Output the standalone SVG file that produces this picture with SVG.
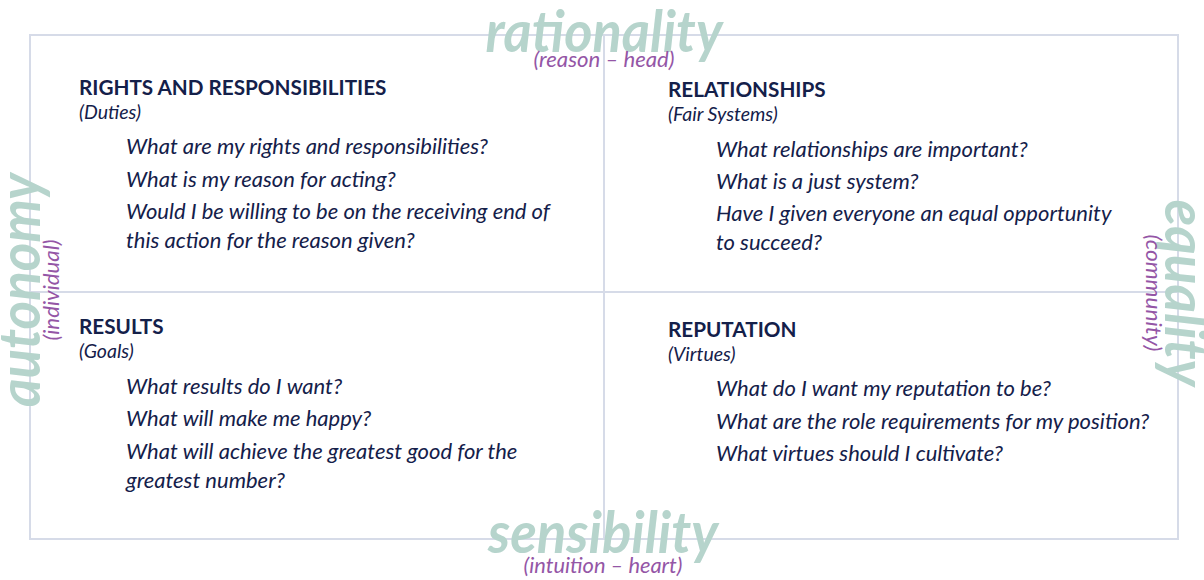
<svg xmlns="http://www.w3.org/2000/svg" width="1204" height="580" viewBox="0 0 1204 580">
<style>
.grid{fill:none;stroke:#d6dbe8;stroke-width:2}
.big{font-family:Lato,"Open Sans",sans-serif;font-style:italic;font-weight:700;font-size:57px;fill:#b6d4cc}
.sub{font-family:Lato,"Open Sans",sans-serif;font-style:italic;font-size:21px;fill:#9456a6}
.h{font-family:Lato,"Open Sans",sans-serif;font-weight:700;font-size:20.7px;fill:#14204a}
.p{font-family:Lato,"Open Sans",sans-serif;font-style:italic;font-size:19.5px;fill:#14204a}
.q{font-family:Lato,"Open Sans",sans-serif;font-style:italic;font-size:22px;fill:#14204a}
</style>
<rect width="1204" height="580" fill="#ffffff"/>
<g id="grid">
<rect class="grid" x="30" y="35" width="1148" height="504"/>
<line class="grid" x1="604" y1="35" x2="604" y2="539"/>
<line class="grid" x1="30" y1="292" x2="1178" y2="292"/>
</g>
<g id="axis-top">
<text class="big" x="604" y="52" text-anchor="middle" textLength="237" lengthAdjust="spacingAndGlyphs">rationality</text>
<text class="sub" x="604" y="67" text-anchor="middle" textLength="141" lengthAdjust="spacingAndGlyphs">(reason – head)</text>
</g>
<g id="axis-bottom">
<text class="big" x="603" y="553" text-anchor="middle" textLength="230" lengthAdjust="spacingAndGlyphs">sensibility</text>
<text class="sub" x="603" y="573" text-anchor="middle" textLength="159" lengthAdjust="spacingAndGlyphs">(intuition – heart)</text>
</g>
<g id="axis-left">
<text class="big" transform="translate(40,290) rotate(-90)" text-anchor="middle" textLength="234" lengthAdjust="spacingAndGlyphs">autonomy</text>
<text class="sub" transform="translate(59,290) rotate(-90)" text-anchor="middle" textLength="101" lengthAdjust="spacingAndGlyphs">(individual)</text>
</g>
<g id="axis-right">
<text class="big" transform="translate(1165,293) rotate(90)" text-anchor="middle" textLength="187" lengthAdjust="spacingAndGlyphs">equality</text>
<text class="sub" transform="translate(1146,293) rotate(90)" text-anchor="middle" textLength="117" lengthAdjust="spacingAndGlyphs">(community)</text>
</g>
<g id="q-rights">
<text class="h" x="79" y="95">RIGHTS AND RESPONSIBILITIES</text>
<text class="p" x="79" y="119">(Duties)</text>
<text class="q" x="126" y="154">What are my rights and responsibilities?</text>
<text class="q" x="126" y="187">What is my reason for acting?</text>
<text class="q" x="126" y="219">Would I be willing to be on the receiving end of</text>
<text class="q" x="126" y="248">this action for the reason given?</text>
</g>
<g id="q-relationships">
<text class="h" x="668" y="97">RELATIONSHIPS</text>
<text class="p" x="668" y="121">(Fair Systems)</text>
<text class="q" x="716" y="157">What relationships are important?</text>
<text class="q" x="716" y="189">What is a just system?</text>
<text class="q" x="716" y="221">Have I given everyone an equal opportunity</text>
<text class="q" x="716" y="250">to succeed?</text>
</g>
<g id="q-results">
<text class="h" x="79" y="334">RESULTS</text>
<text class="p" x="79" y="358">(Goals)</text>
<text class="q" x="126" y="394">What results do I want?</text>
<text class="q" x="126" y="426">What will make me happy?</text>
<text class="q" x="126" y="459">What will achieve the greatest good for the</text>
<text class="q" x="126" y="488">greatest number?</text>
</g>
<g id="q-reputation">
<text class="h" x="668" y="337">REPUTATION</text>
<text class="p" x="668" y="361">(Virtues)</text>
<text class="q" x="716" y="396">What do I want my reputation to be?</text>
<text class="q" x="716" y="429">What are the role requirements for my position?</text>
<text class="q" x="716" y="461">What virtues should I cultivate?</text>
</g>
</svg>
